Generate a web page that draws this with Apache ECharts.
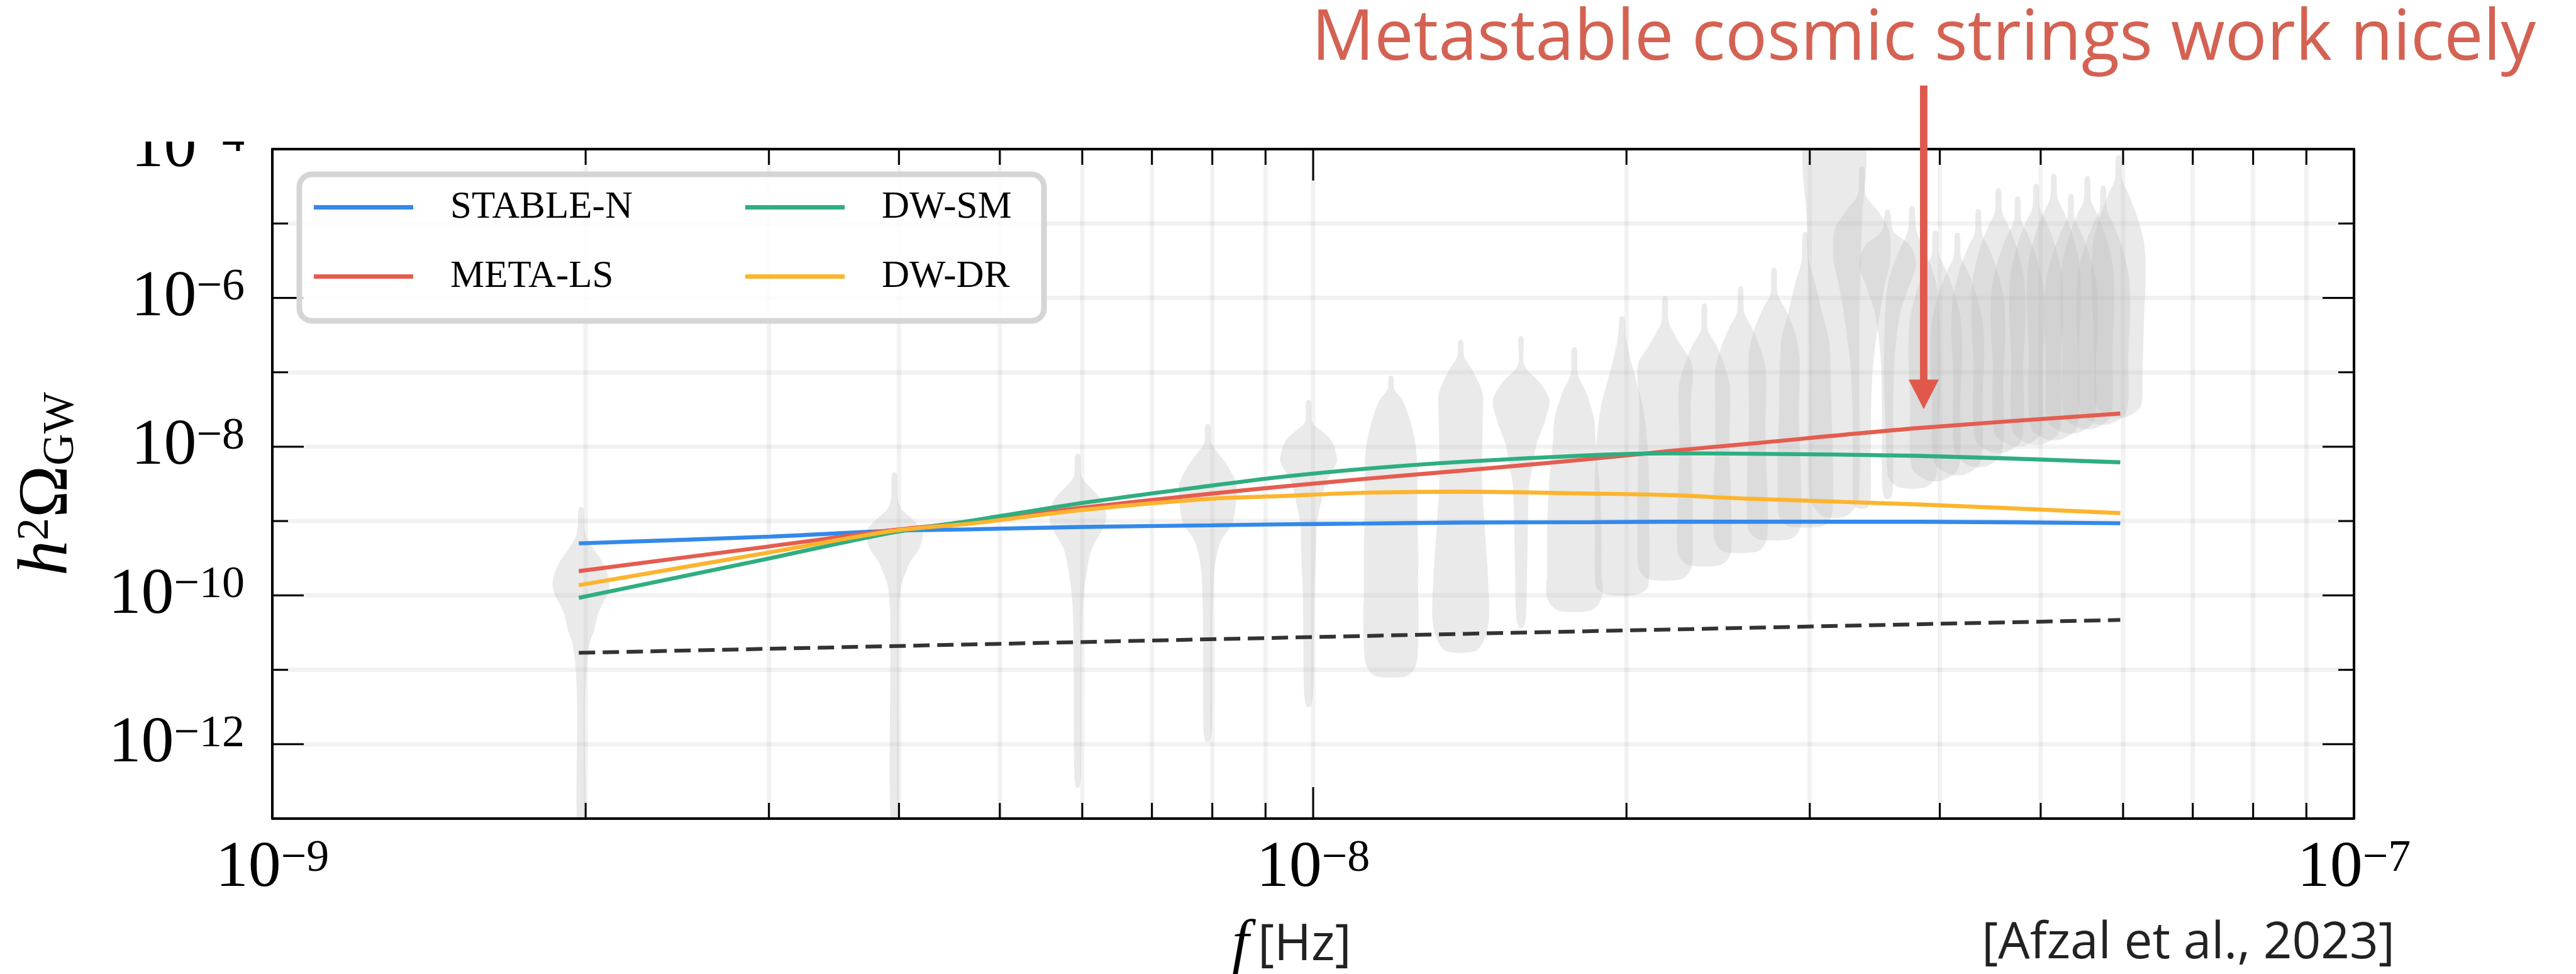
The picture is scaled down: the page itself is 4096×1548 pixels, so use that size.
<!DOCTYPE html>
<html>
<head>
<meta charset="utf-8">
<title>Free-spectrum violins and cosmological GW models</title>
<script src="https://cdn.jsdelivr.net/npm/echarts@6/dist/echarts.min.js"></script>
<style>
  html, body { margin: 0; padding: 0; background: #ffffff; }
  #chart { width: 4096px; height: 1548px; }
</style>
</head>
<body>
<div id="chart"></div>
<script>
// ---------------------------------------------------------------------------
// Data
// ---------------------------------------------------------------------------

// Centre frequencies of the 30 free-spectrum bins (Hz)
const binFreqs = [
  1.98e-9, 3.96e-9, 5.94e-9, 7.92e-9, 9.90e-9,
  1.188e-8, 1.386e-8, 1.584e-8, 1.782e-8, 1.980e-8,
  2.178e-8, 2.376e-8, 2.574e-8, 2.772e-8, 2.970e-8,
  3.168e-8, 3.366e-8, 3.564e-8, 3.762e-8, 3.960e-8,
  4.158e-8, 4.356e-8, 4.554e-8, 4.752e-8, 4.950e-8,
  5.148e-8, 5.346e-8, 5.544e-8, 5.742e-8, 5.940e-8
];

// Posterior outline of each bin, top to bottom:
// [log10 h²Ω_GW, relative density (1 = widest point of that violin)]
const violinProfiles = [
  [[-8.82,0.06],[-8.87,0.1],[-9.1,0.12],[-9.22,0.2],[-9.36,0.42],[-9.58,0.8],[-9.8,1.0],[-9.97,0.95],[-10.12,0.75],[-10.27,0.58],[-10.46,0.47],[-10.65,0.3],[-11.0,0.19],[-11.5,0.14],[-13.3,0.13]],
  [[-8.35,0.06],[-8.4,0.1],[-8.7,0.12],[-8.84,0.25],[-8.98,0.65],[-9.13,0.98],[-9.29,0.95],[-9.42,0.8],[-9.52,0.6],[-9.71,0.38],[-9.9,0.22],[-10.3,0.15],[-13.3,0.13]],
  [[-8.1,0.06],[-8.15,0.1],[-8.4,0.14],[-8.55,0.45],[-8.72,0.85],[-8.9,1.0],[-9.05,0.95],[-9.2,0.75],[-9.37,0.5],[-9.55,0.38],[-9.73,0.3],[-10.02,0.2],[-10.5,0.15],[-12.4,0.12],[-12.58,0.06]],
  [[-7.7,0.06],[-7.75,0.1],[-7.96,0.13],[-8.1,0.4],[-8.26,0.7],[-8.49,1.0],[-8.73,1.0],[-9.02,0.88],[-9.26,0.48],[-9.49,0.3],[-9.73,0.22],[-10.3,0.17],[-11.8,0.15],[-11.96,0.07]],
  [[-7.38,0.06],[-7.43,0.1],[-7.67,0.13],[-7.8,0.5],[-7.91,0.79],[-8.05,0.95],[-8.2,1.0],[-8.35,0.8],[-8.49,0.6],[-8.73,0.45],[-9.02,0.3],[-9.43,0.26],[-10.02,0.2],[-11.3,0.16],[-11.49,0.07]],
  [[-7.05,0.06],[-7.1,0.1],[-7.23,0.12],[-7.38,0.41],[-7.67,0.69],[-7.96,0.86],[-8.26,0.93],[-8.84,0.93],[-9.43,0.96],[-10.0,0.96],[-10.31,0.98],[-10.84,0.93],[-11.0,0.8],[-11.09,0.5]],
  [[-6.57,0.06],[-6.62,0.1],[-6.79,0.12],[-6.97,0.41],[-7.26,0.76],[-7.44,0.79],[-7.96,0.76],[-8.55,0.76],[-9.14,0.86],[-9.73,0.96],[-10.31,1.0],[-10.6,0.83],[-10.75,0.5]],
  [[-6.52,0.06],[-6.57,0.1],[-6.91,0.12],[-7.15,0.69],[-7.38,1.0],[-7.67,0.83],[-7.96,0.55],[-8.26,0.41],[-8.55,0.28],[-9.14,0.24],[-9.73,0.21],[-10.3,0.17],[-10.43,0.07]],
  [[-6.67,0.06],[-6.72,0.1],[-7.03,0.13],[-7.26,0.41],[-7.61,0.69],[-7.96,0.76],[-8.55,0.9],[-9.14,0.96],[-9.73,0.96],[-9.96,1.0],[-10.12,0.85],[-10.21,0.5]],
  [[-6.25,0.06],[-6.3,0.1],[-6.5,0.13],[-6.79,0.28],[-7.08,0.48],[-7.5,0.76],[-7.96,0.9],[-8.55,0.96],[-9.14,0.96],[-9.73,0.96],[-9.9,0.9],[-9.99,0.5]],
  [[-5.98,0.06],[-6.03,0.1],[-6.32,0.13],[-6.5,0.35],[-6.67,0.62],[-6.9,0.96],[-7.5,0.9],[-8.3,0.95],[-9.0,0.98],[-9.6,0.95],[-9.72,0.8],[-9.79,0.5]],
  [[-6.08,0.06],[-6.13,0.1],[-6.44,0.13],[-6.62,0.4],[-6.9,0.7],[-7.2,0.9],[-8.0,0.88],[-8.8,0.95],[-9.4,0.95],[-9.53,0.8],[-9.6,0.5]],
  [[-5.85,0.06],[-5.9,0.1],[-6.2,0.13],[-6.4,0.4],[-6.7,0.72],[-7.0,0.9],[-7.8,0.88],[-8.6,0.95],[-9.2,0.95],[-9.35,0.8],[-9.42,0.5]],
  [[-5.6,0.06],[-5.65,0.1],[-5.95,0.13],[-6.15,0.4],[-6.45,0.72],[-6.8,0.9],[-7.6,0.88],[-8.4,0.95],[-9.05,0.95],[-9.18,0.8],[-9.25,0.5]],
  [[-5.12,0.06],[-5.17,0.1],[-5.5,0.13],[-5.8,0.35],[-6.2,0.6],[-6.6,0.85],[-7.4,0.92],[-8.3,0.98],[-8.9,0.95],[-9.02,0.8],[-9.08,0.5]],
  [[-3.8,0.97],[-5.0,0.97],[-6.0,0.9],[-7.0,0.88],[-8.0,0.9],[-8.7,0.85],[-8.88,0.6],[-8.95,0.3]],
  [[-4.24,0.06],[-4.29,0.1],[-4.62,0.15],[-4.85,0.6],[-5.1,0.97],[-5.5,1.0],[-5.85,0.8],[-6.3,0.6],[-6.9,0.4],[-7.5,0.33],[-8.3,0.32],[-8.75,0.3],[-8.83,0.15]],
  [[-4.82,0.06],[-4.87,0.1],[-5.1,0.2],[-5.3,0.8],[-5.55,1.0],[-5.8,0.8],[-6.2,0.45],[-6.8,0.25],[-7.5,0.2],[-8.5,0.2],[-8.65,0.15],[-8.7,0.07]],
  [[-4.77,0.06],[-4.82,0.1],[-5.1,0.15],[-5.4,0.5],[-5.8,0.85],[-6.2,0.95],[-7.0,1.0],[-7.8,0.93],[-8.4,0.85],[-8.52,0.6],[-8.56,0.3]],
  [[-5.10,0.06],[-5.15,0.1],[-5.42,0.13],[-5.6,0.35],[-5.9,0.65],[-6.3,0.9],[-6.8,0.95],[-7.4,0.88],[-8.0,0.9],[-8.31,0.8],[-8.41,0.5],[-8.46,0.2]],
  [[-5.13,0.06],[-5.18,0.1],[-5.45,0.13],[-5.63,0.35],[-5.93,0.65],[-6.33,0.9],[-6.8,0.95],[-7.4,0.88],[-7.95,0.9],[-8.23,0.8],[-8.33,0.5],[-8.38,0.2]],
  [[-4.81,0.06],[-4.86,0.1],[-5.13,0.13],[-5.31,0.35],[-5.61,0.65],[-6.01,0.9],[-6.5,0.95],[-7.1,0.88],[-7.8,0.9],[-8.12,0.8],[-8.22,0.5],[-8.27,0.2]],
  [[-4.53,0.06],[-4.58,0.1],[-4.85,0.13],[-5.03,0.35],[-5.33,0.65],[-5.73,0.9],[-6.2,0.95],[-6.9,0.88],[-7.6,0.9],[-7.93,0.8],[-8.03,0.5],[-8.08,0.2]],
  [[-4.64,0.06],[-4.69,0.1],[-4.96,0.13],[-5.14,0.35],[-5.44,0.65],[-5.84,0.9],[-6.3,0.95],[-6.9,0.88],[-7.5,0.9],[-7.84,0.8],[-7.94,0.5],[-7.99,0.2]],
  [[-4.47,0.06],[-4.52,0.1],[-4.79,0.13],[-4.97,0.35],[-5.27,0.65],[-5.67,0.9],[-6.2,0.95],[-6.8,0.88],[-7.5,0.9],[-7.82,0.8],[-7.92,0.5],[-7.97,0.2]],
  [[-4.34,0.06],[-4.39,0.1],[-4.66,0.13],[-4.84,0.35],[-5.14,0.65],[-5.54,0.9],[-6.1,0.95],[-6.7,0.88],[-7.4,0.9],[-7.76,0.8],[-7.86,0.5],[-7.91,0.2]],
  [[-4.61,0.06],[-4.66,0.1],[-4.93,0.13],[-5.11,0.35],[-5.41,0.65],[-5.81,0.9],[-6.3,0.95],[-6.9,0.88],[-7.4,0.9],[-7.67,0.8],[-7.77,0.5],[-7.82,0.2]],
  [[-4.37,0.06],[-4.42,0.1],[-4.69,0.13],[-4.87,0.35],[-5.17,0.65],[-5.57,0.9],[-6.1,0.95],[-6.7,0.88],[-7.3,0.9],[-7.61,0.8],[-7.71,0.5],[-7.76,0.2]],
  [[-4.50,0.06],[-4.55,0.1],[-4.82,0.13],[-5.0,0.35],[-5.3,0.65],[-5.7,0.9],[-6.2,0.95],[-6.8,0.88],[-7.3,0.9],[-7.55,0.8],[-7.65,0.5],[-7.70,0.2]],
  [[-4.09,0.06],[-4.14,0.1],[-4.41,0.13],[-4.6,0.35],[-4.9,0.65],[-5.3,0.92],[-5.8,0.95],[-6.3,0.9],[-7.0,0.85],[-7.45,0.8],[-7.56,0.5],[-7.61,0.2]]
];

// Model spectra h²Ω_GW(f)
const modelFreqs = [1.970e-9, 3.005e-9, 3.958e-9, 4.714e-9, 6.000e-9, 7.990e-9, 9.277e-9,
                    1.116e-8, 1.384e-8, 1.850e-8, 2.195e-8, 2.615e-8, 3.819e-8, 5.963e-8];
const stableN = [5.01e-10, 6.17e-10, 7.41e-10, 7.76e-10, 8.32e-10, 8.77e-10, 9.02e-10,
                 9.25e-10, 9.55e-10, 9.66e-10, 9.77e-10, 9.77e-10, 9.77e-10, 9.33e-10];
const metaLS  = [2.12e-10, 4.57e-10, 7.59e-10, 9.77e-10, 1.51e-9, 2.34e-9, 2.88e-9,
                 3.67e-9, 4.74e-9, 6.84e-9, 8.71e-9, 1.09e-8, 1.78e-8, 2.79e-8];
const dwSM    = [9.29e-11, 3.16e-10, 7.08e-10, 1.02e-9, 1.75e-9, 3.00e-9, 3.89e-9,
                 5.01e-9, 6.24e-9, 7.67e-9, 8.13e-9, 8.04e-9, 7.52e-9, 6.17e-9];
const dwDR    = [1.37e-10, 3.80e-10, 7.41e-10, 9.33e-10, 1.41e-9, 2.00e-9, 2.16e-9,
                 2.40e-9, 2.48e-9, 2.34e-9, 2.24e-9, 2.00e-9, 1.67e-9, 1.28e-9];

// Dashed reference spectrum
const dashedFreqs = [1.97e-9, 1.116e-8, 5.963e-8];
const dashedLevel = [1.69e-11, 2.85e-11, 4.68e-11];

// Axis range and ticks (Hz, h²Ω_GW)
const xRange = [1e-9, 1e-7];
const yRange = [1e-13, 1e-4];
const xMajorTicks = [1e-9, 1e-8, 1e-7];
const xMinorTicks = [2e-9, 3e-9, 4e-9, 5e-9, 6e-9, 7e-9, 8e-9, 9e-9,
                     2e-8, 3e-8, 4e-8, 5e-8, 6e-8, 7e-8, 8e-8, 9e-8];
const yMajorTicks = [1e-12, 1e-10, 1e-8, 1e-6, 1e-4];
const yMinorTicks = [1e-13, 1e-11, 1e-9, 1e-7, 1e-5];

// Callout
const calloutText = 'Metastable cosmic strings work nicely';
const calloutFreq = 3.86e-8;
const calloutTip  = 3.2e-8;
const citation = '[Afzal et al., 2023]';

// ---------------------------------------------------------------------------
// Styling
// ---------------------------------------------------------------------------
const SERIF = "'Liberation Serif', 'DejaVu Serif', serif";
const SANS = "'Open Sans', 'Noto Sans', sans-serif";
const VIOLIN_HALF_WIDTH = 45;
const VIOLIN_FILL = 'rgba(190,190,190,0.32)';
const GRID_COLOR = 'rgba(0,0,0,0.05)';
const TICK_MAJOR = 50, TICK_MINOR = 25;
const COLORS = { stable: '#3389ea', meta: '#e45d50', sm: '#2fae80', dr: '#fdb42e', dash: '#333333' };

// Both axes are drawn in decades: positions are log10 of the physical value.
const lg = Math.log10;

const tickRich = {
  b: { fontFamily: SERIF, fontSize: 104, lineHeight: 104, color: '#000' },
  s: { fontFamily: SERIF, fontSize: 72, lineHeight: 52, verticalAlign: 'top', color: '#000' }
};
function powerLabel(exp, onlyEven) {
  const e = Math.round(exp);
  if (onlyEven && e % 2 !== 0) return '';
  return '{b|10}{s|' + (e < 0 ? '\u2212' + (-e) : e) + '}';
}

// ---------------------------------------------------------------------------
// Render helpers
// ---------------------------------------------------------------------------
function renderViolin(params, api) {
  const i = api.value(2);
  const prof = violinProfiles[i];
  const x = api.value(0);
  const cx = api.coord([x, -8])[0];
  const right = [], left = [];
  prof.forEach(([ly, w]) => {
    const y = api.coord([x, ly])[1];
    right.push([cx + w * VIOLIN_HALF_WIDTH, y]);
    left.push([cx - w * VIOLIN_HALF_WIDTH, y]);
  });
  return {
    type: 'polygon',
    shape: { points: right.concat(left.reverse()), smooth: 0.3 },
    style: { fill: VIOLIN_FILL }
  };
}

// frame items: [log x, log y, axis (0 = x, 1 = y), major flag]
const frameData = [];
xMajorTicks.forEach(v => frameData.push([lg(v), -8, 0, 1]));
xMinorTicks.forEach(v => frameData.push([lg(v), -8, 0, 0]));
yMajorTicks.forEach(v => frameData.push([-8, lg(v), 1, 1]));
yMinorTicks.forEach(v => frameData.push([-8, lg(v), 1, 0]));

function renderGridLine(params, api) {
  const cs = params.coordSys;
  const p = api.coord([api.value(0), api.value(1)]);
  const style = { stroke: GRID_COLOR, lineWidth: 7 };
  if (api.value(2) === 0) {
    return { type: 'line', shape: { x1: p[0], y1: cs.y, x2: p[0], y2: cs.y + cs.height }, style };
  }
  return { type: 'line', shape: { x1: cs.x, y1: p[1], x2: cs.x + cs.width, y2: p[1] }, style };
}

function renderTick(params, api) {
  const cs = params.coordSys;
  const p = api.coord([api.value(0), api.value(1)]);
  const len = api.value(3) ? TICK_MAJOR : TICK_MINOR;
  const style = { stroke: '#000', lineWidth: 3 };
  if (api.value(2) === 0) {
    const yb = cs.y + cs.height, yt = cs.y;
    return { type: 'group', children: [
      { type: 'line', shape: { x1: p[0], y1: yb, x2: p[0], y2: yb - len }, style },
      { type: 'line', shape: { x1: p[0], y1: yt, x2: p[0], y2: yt + len }, style }
    ]};
  }
  const xl = cs.x, xr = cs.x + cs.width;
  return { type: 'group', children: [
    { type: 'line', shape: { x1: xl, y1: p[1], x2: xl + len, y2: p[1] }, style },
    { type: 'line', shape: { x1: xr, y1: p[1], x2: xr - len, y2: p[1] }, style }
  ]};
}

function lineSeries(name, ys, color) {
  return {
    name, type: 'line', data: modelFreqs.map((f, i) => [lg(f), lg(ys[i])]),
    smooth: 0.3, showSymbol: false, silent: true,
    lineStyle: { color, width: 6.4 }, itemStyle: { color }, z: 3
  };
}

// ---------------------------------------------------------------------------
// Chart
// ---------------------------------------------------------------------------
const chart = echarts.init(document.getElementById('chart'), null, { width: 4096, height: 1548 });

const axisLineStyle = { show: true, onZero: false, lineStyle: { color: '#000', width: 4 } };
const legendText = { fontFamily: SERIF, fontSize: 61, lineHeight: 60, color: '#000', padding: [0, 0, 0, 54] };
const xBase = { type: 'value', min: lg(xRange[0]), max: lg(xRange[1]), interval: 1, z: 6,
                axisLine: axisLineStyle, axisTick: { show: false }, splitLine: { show: false } };
const yBase = { type: 'value', min: lg(yRange[0]), max: lg(yRange[1]), interval: 1, z: 6,
                axisLine: axisLineStyle, axisTick: { show: false }, splitLine: { show: false } };

const option = {
  animation: false,
  backgroundColor: '#ffffff',
  grid: { left: 433, right: 353, top: 237, bottom: 247, containLabel: false, outerBoundsMode: 'none' },
  xAxis: [
    Object.assign({}, xBase, {
      position: 'bottom',
      axisLabel: { margin: 28, formatter: v => powerLabel(v, false), rich: tickRich, showMinLabel: true, showMaxLabel: true },
      name: '{i|f}{u|[Hz]}', nameLocation: 'middle', nameGap: 157, nameMoveOverlap: false,
      nameTextStyle: {
        padding: [0, 68, 0, 0],
        rich: {
          i: { fontFamily: SERIF, fontStyle: 'italic', fontSize: 96, lineHeight: 90, color: '#000', padding: [0, 14, 0, 0] },
          u: { fontFamily: SANS, fontSize: 80, lineHeight: 90, color: '#222' }
        }
      }
    }),
    Object.assign({}, xBase, { position: 'top', axisLabel: { show: false } })
  ],
  yAxis: [
    Object.assign({}, yBase, {
      position: 'left',
      axisLabel: { margin: 44, formatter: v => powerLabel(v, true), rich: tickRich, showMinLabel: true, showMaxLabel: true },
      name: '{h|h}{sup|2}{o|\u03A9}{sub|GW}', nameLocation: 'middle', nameGap: 300, nameRotate: 90, nameMoveOverlap: false,
      nameTextStyle: {
        rich: {
          h: { fontFamily: SERIF, fontStyle: 'italic', fontSize: 112, lineHeight: 112, color: '#000' },
          sup: { fontFamily: SERIF, fontSize: 72, lineHeight: 60, verticalAlign: 'top', color: '#000' },
          o: { fontFamily: SERIF, fontSize: 112, lineHeight: 112, color: '#000' },
          sub: { fontFamily: SERIF, fontSize: 70, lineHeight: 44, verticalAlign: 'bottom', color: '#000' }
        }
      }
    }),
    Object.assign({}, yBase, { position: 'right', axisLabel: { show: false } })
  ],
  legend: [
    {
      data: ['STABLE-N', 'META-LS'], orient: 'vertical', left: 494, top: 294, z: 100,
      icon: 'rect', itemWidth: 158, itemHeight: 7, itemGap: 49, selectedMode: false,
      textStyle: legendText
    },
    {
      data: ['DW-SM', 'DW-DR'], orient: 'vertical', left: 1180, top: 294, z: 100,
      icon: 'rect', itemWidth: 158, itemHeight: 7, itemGap: 49, selectedMode: false,
      textStyle: legendText
    }
  ],
  series: [
    {
      name: 'grid', type: 'custom', renderItem: renderGridLine, data: frameData,
      silent: true, z: 0, clip: false
    },
    {
      name: 'posteriors', type: 'custom', renderItem: renderViolin,
      data: binFreqs.map((f, i) => [lg(f), -8, i]), silent: true, z: 1, clip: true
    },
    lineSeries('STABLE-N', stableN, COLORS.stable),
    lineSeries('META-LS', metaLS, COLORS.meta),
    lineSeries('DW-SM', dwSM, COLORS.sm),
    lineSeries('DW-DR', dwDR, COLORS.dr),
    {
      name: 'dashed', type: 'line', data: dashedFreqs.map((f, i) => [lg(f), lg(dashedLevel[i])]),
      showSymbol: false, silent: true, z: 3,
      lineStyle: { color: COLORS.dash, width: 6, type: [26, 12] }, itemStyle: { color: COLORS.dash }
    },
    {
      name: 'ticks', type: 'custom', renderItem: renderTick, data: frameData,
      silent: true, z: 7, clip: false
    }
  ]
};
chart.setOption(option);

// Callout arrow, header band, legend frame and citation
const tip = chart.convertToPixel({ xAxisIndex: 0, yAxisIndex: 0 }, [lg(calloutFreq), lg(calloutTip)]);
const headLen = 47, headHalf = 24, shaftTop = 136;
chart.setOption({
  graphic: { elements: [
    { type: 'rect', shape: { x: 0, y: 0, width: 4096, height: 225 }, style: { fill: '#ffffff' }, z: 50, silent: true },
    { type: 'rect', shape: { x: 476, y: 277, width: 1184, height: 233, r: 20 },
      style: { fill: 'rgba(255,255,255,0.8)', stroke: '#d5d5d5', lineWidth: 9 }, z: 90, silent: true },
    { type: 'rect', shape: { x: tip[0] - 5.9, y: shaftTop, width: 11.8, height: tip[1] - headLen - shaftTop + 1 },
      style: { fill: '#e0584b' }, z: 110, silent: true },
    { type: 'polygon', shape: { points: [[tip[0] - headHalf, tip[1] - headLen], [tip[0] + headHalf, tip[1] - headLen], [tip[0], tip[1]]] },
      style: { fill: '#e0584b' }, z: 110, silent: true },
    { type: 'text', x: tip[0], y: 63, z: 110, silent: true,
      style: { text: calloutText, fontFamily: SANS, fontSize: 111, fill: '#d46253', align: 'center', verticalAlign: 'middle' } },
    { type: 'text', x: 3808, y: 1500, z: 110, silent: true,
      style: { text: citation, fontFamily: SANS, fontSize: 80, fill: '#222222', align: 'right', verticalAlign: 'middle' } }
  ]}
});
</script>
</body>
</html>
